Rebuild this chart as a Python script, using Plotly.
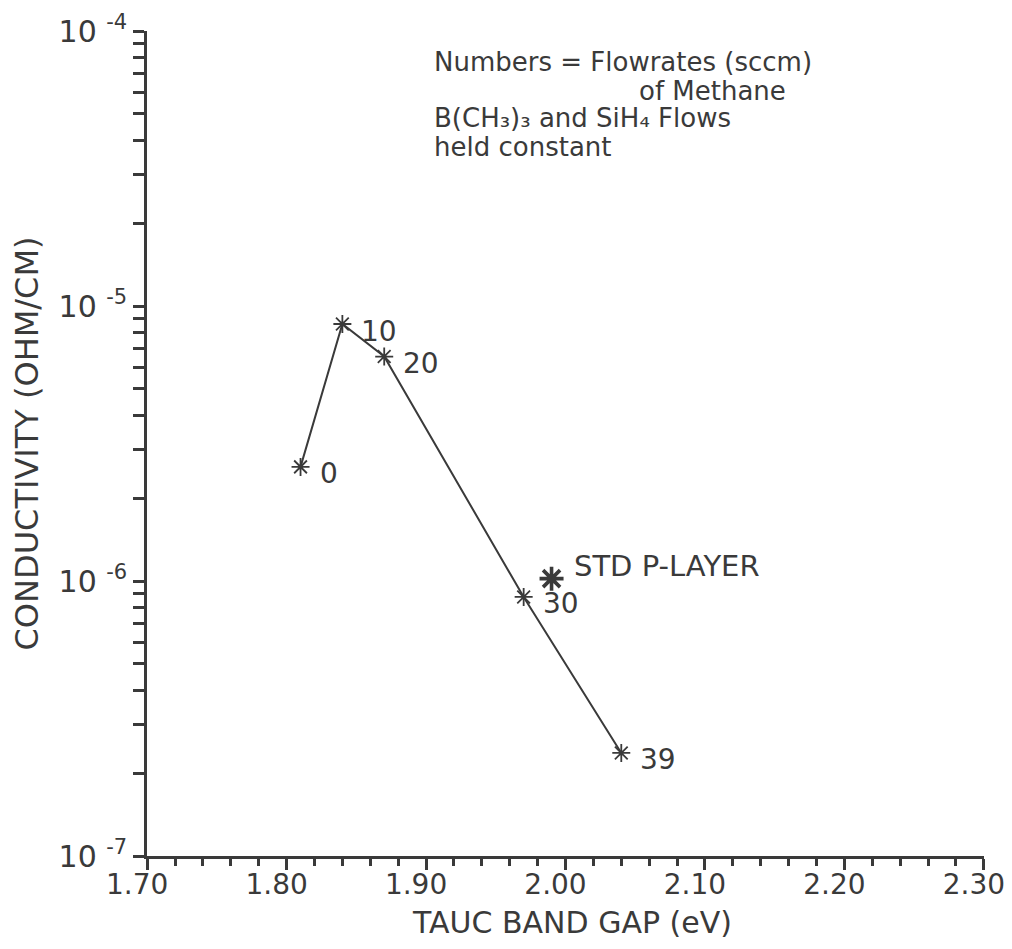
import math
import plotly.graph_objects as go

# Data
band_gap = [1.81, 1.84, 1.87, 1.97, 2.04]
conductivity = [2.6e-6, 8.6e-6, 6.55e-6, 8.75e-7, 2.37e-7]
flow_labels = ["0", "10", "20", "30", "39"]

std_gap = [1.99]
std_cond = [1.02e-6]
std_label = ["STD P-LAYER"]

x_tickvals = [1.70, 1.80, 1.90, 2.00, 2.10, 2.20, 2.30]
x_ticktext = ["1.70", "1.80", "1.90", "2.00", "2.10", "2.20", "2.30"]
y_tickvals = [1e-7, 1e-6, 1e-5, 1e-4]
y_ticktext = ["10 <sup>-7</sup>", "10 <sup>-6</sup>", "10 <sup>-5</sup>", "10 <sup>-4</sup>"]

x_title = "TAUC BAND GAP (eV)"
y_title = "CONDUCTIVITY (OHM/CM)"

notes = [
    ("Numbers = Flowrates (sccm)", 0.340, 0.962),
    ("of Methane", 0.586, 0.927),
    ("B(CH\u2083)\u2083 and SiH\u2084 Flows", 0.340, 0.894),
    ("held constant", 0.340, 0.860),
]

INK = "#3a3a3a"
FONT = "DejaVu Sans"

y_minor = [k * 10.0 ** e for e in (-7, -6, -5) for k in range(2, 10)]

fig = go.Figure()
fig.add_trace(go.Scatter(
    x=band_gap, y=conductivity, mode="lines+markers",
    line=dict(color=INK, width=2),
    marker=dict(symbol="asterisk-open", size=15, color=INK, line=dict(color=INK, width=1.8)),
    showlegend=False, cliponaxis=False,
))
fig.add_trace(go.Scatter(
    x=std_gap, y=std_cond, mode="markers",
    marker=dict(symbol="asterisk-open", size=20, color=INK, line=dict(color=INK, width=3.6)),
    showlegend=False, cliponaxis=False,
))

annotations = [
    dict(text=t, x=x, y=y, xref="paper", yref="paper", xanchor="left", yanchor="middle",
         showarrow=False, font=dict(family=FONT, size=26, color=INK))
    for t, x, y in notes
]
for bx, cy, lab in zip(band_gap, conductivity, flow_labels):
    annotations.append(dict(
        text=lab, x=bx, y=math.log10(cy), xref="x", yref="y",
        xanchor="left", yanchor="middle", xshift=17, yshift=-7,
        showarrow=False, font=dict(family=FONT, size=28, color=INK)))
annotations.append(dict(
    text=std_label[0], x=std_gap[0], y=math.log10(std_cond[0]),
    xref="x", yref="y", xanchor="left", yanchor="middle", xshift=20, yshift=13,
    showarrow=False, font=dict(family=FONT, size=29, color=INK)))
annotations.append(dict(
    text=x_title, x=0.508, y=-0.081, xref="paper", yref="paper",
    xanchor="center", yanchor="middle", showarrow=False,
    font=dict(family=FONT, size=30, color=INK)))
annotations.append(dict(
    text=y_title, x=-0.1434, y=0.5, xref="paper", yref="paper", textangle=-90,
    xanchor="center", yanchor="middle", showarrow=False,
    font=dict(family=FONT, size=32, color=INK)))

fig.update_layout(
    width=1012, height=949,
    margin=dict(l=147, r=28, t=31, b=93, autoexpand=False),
    paper_bgcolor="white", plot_bgcolor="white",
    font=dict(family=FONT, color=INK),
    annotations=annotations,
    xaxis=dict(
        range=[1.6999, 2.3001], tickmode="array", tickvals=x_tickvals, ticktext=x_ticktext,
        automargin=False,
        showgrid=False, zeroline=False, showline=True, linecolor=INK, linewidth=2.5,
        ticks="outside", ticklen=11, tickwidth=2.5, tickcolor=INK,
        tickfont=dict(family=FONT, size=28, color=INK), ticklabeloverflow="allow",
        ticklabelshift=-10, ticklabelstandoff=-9,
        minor=dict(dtick=0.02, tick0=1.70, ticks="outside", ticklen=7, tickwidth=2.5, tickcolor=INK, showgrid=False),
    ),
    yaxis=dict(
        type="log", range=[-7, -4], tickmode="array", tickvals=y_tickvals, ticktext=y_ticktext,
        automargin=False,
        showgrid=False, zeroline=False, showline=True, linecolor=INK, linewidth=2.5,
        ticks="outside", ticklen=11, tickwidth=2.5, tickcolor=INK,
        tickfont=dict(family=FONT, size=30, color=INK),
        minor=dict(tickmode="array", tickvals=y_minor, ticks="outside", ticklen=11, tickwidth=2.5, tickcolor=INK, showgrid=False),
    ),
)

fig.write_html("out.html")
